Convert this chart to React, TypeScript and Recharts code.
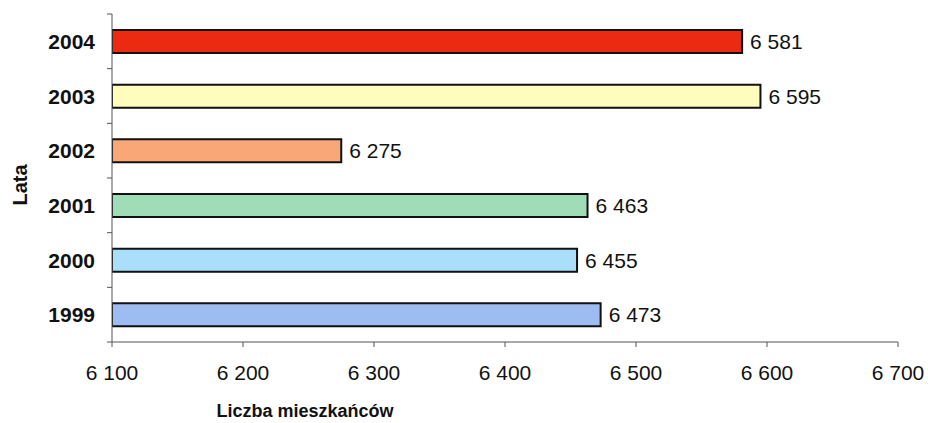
import React from 'react';
import { BarChart, Bar, XAxis, YAxis, Cell, LabelList, Label } from 'recharts';

const years = ['2004', '2003', '2002', '2001', '2000', '1999'];
const residents = [6581, 6595, 6275, 6463, 6455, 6473];
const barColors = ['#EC2A12', '#FFFDBE', '#F9A777', '#9EDDB6', '#AADFFB', '#9DBCF2'];
const xTicks = [6100, 6200, 6300, 6400, 6500, 6600, 6700];

const data = years.map((year, i) => ({ year, value: residents[i] }));

const fmt = (v: number) => {
  const s = String(v);
  return s.slice(0, s.length - 3) + ' ' + s.slice(-3);
};

const FONT = '"Liberation Sans", Arial, sans-serif';
const BAND = 328 / 6;

const YearTick = (props: any) => {
  const { x, y, payload, index } = props;
  const ax = x + 17;
  return (
    <g>
      <text x={x} y={y} dy="0.36em" textAnchor="end" fontSize={21} fontWeight="bold" fill="#111" fontFamily={FONT}>
        {payload.value}
      </text>
      <line x1={ax - 5} x2={ax} y1={y + BAND / 2} y2={y + BAND / 2} stroke="#555" />
      {index === 0 && <line x1={ax - 5} x2={ax} y1={y - BAND / 2} y2={y - BAND / 2} stroke="#555" />}
    </g>
  );
};

const XTitle = (props: any) => {
  const { viewBox } = props;
  return (
    <text x={305} y={viewBox.y + viewBox.height + 45} textAnchor="middle" fontSize={18} fontWeight="bold" fill="#111" fontFamily={FONT}>
      Liczba mieszkańców
    </text>
  );
};

const YTitle = () => (
  <text
    x={20}
    y={185}
    transform="rotate(-90 20 185)"
    dy="0.36em"
    textAnchor="middle"
    fontSize={20}
    fontWeight="bold"
    fill="#111"
    fontFamily={FONT}
  >
    Lata
  </text>
);

const App = () => {
  return (
    <div style={{ position: 'absolute', left: 0, top: 0, width: 928, height: 423, background: '#fff' }}>
      <BarChart
        width={928}
        height={423}
        data={data}
        layout="vertical"
        margin={{ top: 14, right: 30, bottom: 51, left: 0 }}
        barSize={23}
      >
        <XAxis
          type="number"
          domain={[6100, 6700]}
          ticks={xTicks}
          allowDataOverflow
          tickFormatter={fmt}
          height={30}
          stroke="#555"
          tickSize={5}
          tickMargin={18}
          tick={{ fontSize: 21, fill: '#111', fontFamily: FONT }}
        >
          <Label content={<XTitle />} />
        </XAxis>
        <YAxis
          type="category"
          dataKey="year"
          width={112}
          stroke="#555"
          tickLine={false}
          tickSize={0}
          tickMargin={17}
          tick={<YearTick />}
        >
          <Label content={<YTitle />} />
        </YAxis>
        <Bar dataKey="value" stroke="#111" strokeWidth={2} isAnimationActive={false}>
          {data.map((d, i) => (
            <Cell key={d.year} fill={barColors[i]} />
          ))}
          <LabelList
            dataKey="value"
            position="right"
            offset={8}
            formatter={(v: any) => fmt(Number(v))}
            style={{ fontSize: 21, fill: '#111', fontFamily: FONT }}
          />
        </Bar>
      </BarChart>
    </div>
  );
};

export default App;
